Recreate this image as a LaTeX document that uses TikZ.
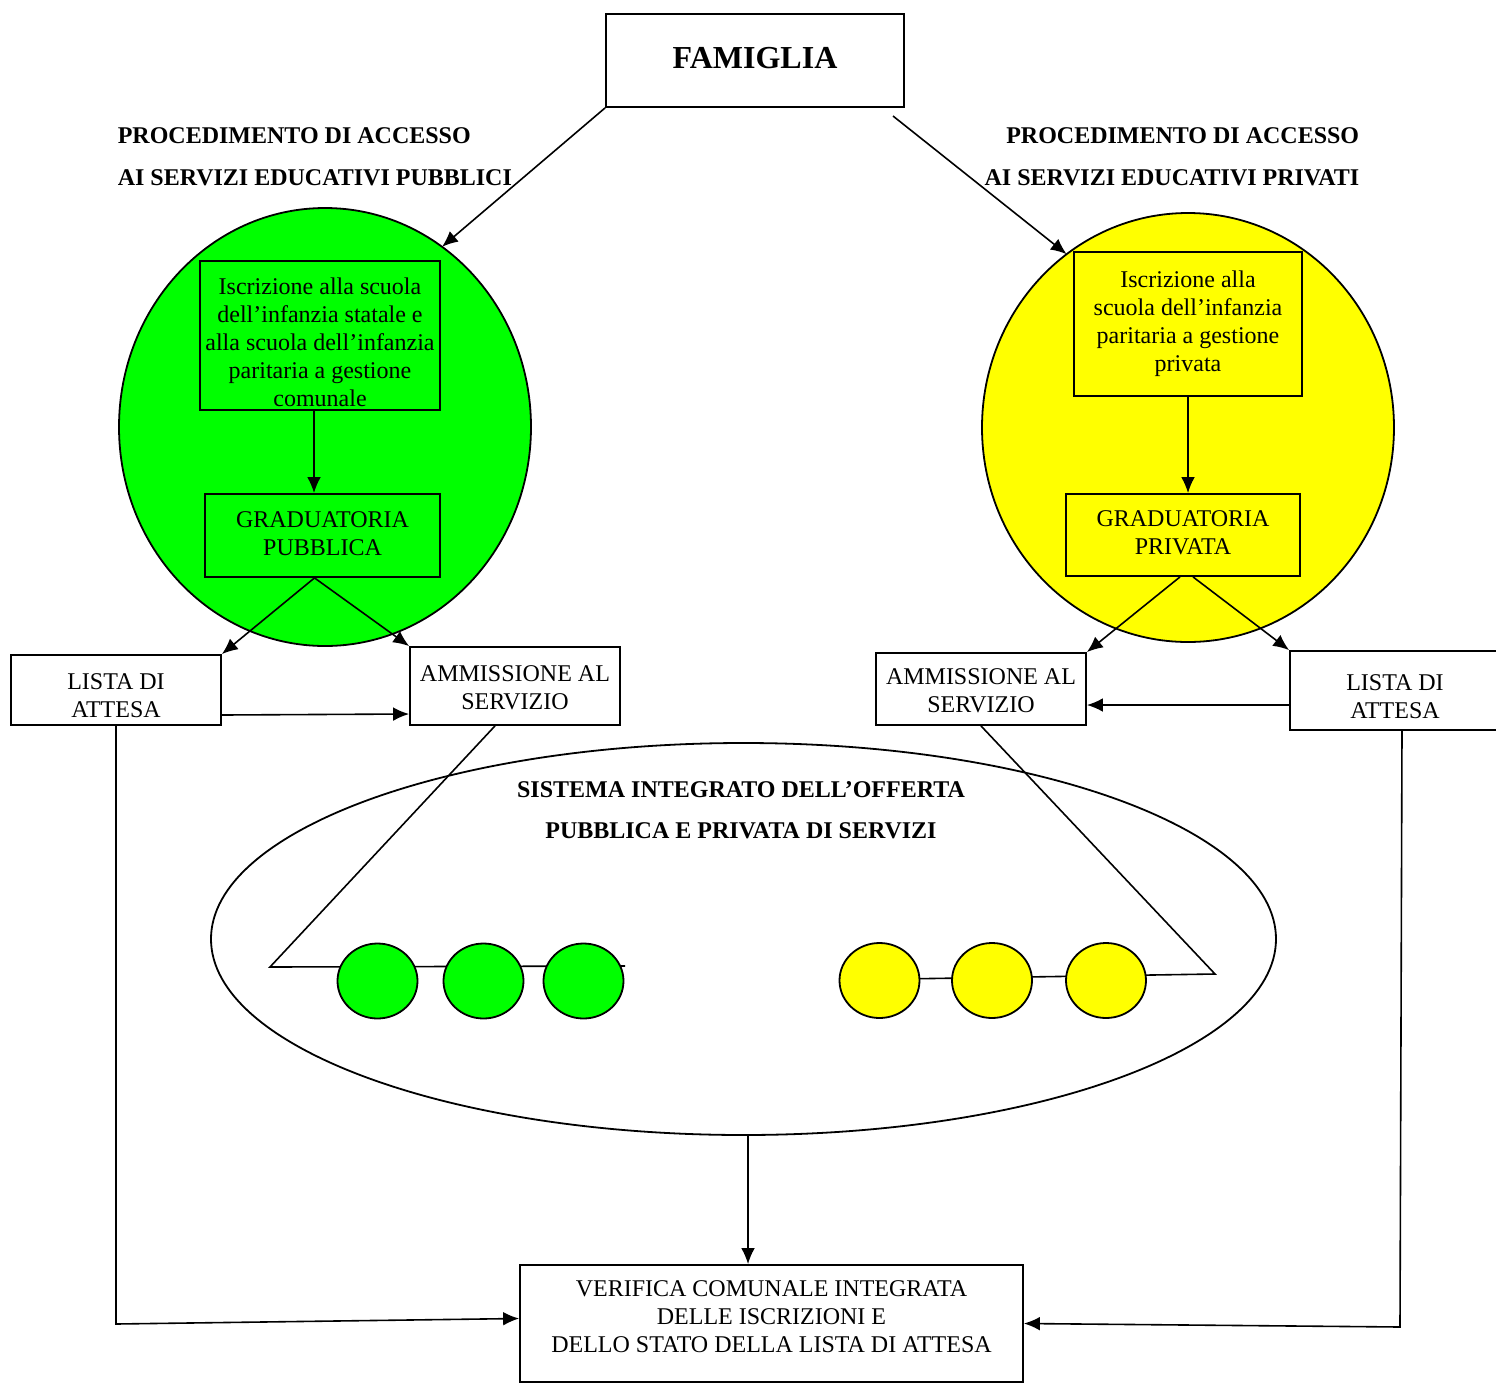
\documentclass[tikz,border=0pt]{standalone}
\usepackage{fontspec}
\setmainfont{Liberation Serif}
\usepackage{tikz}
\usetikzlibrary{arrows.meta}
\usetikzlibrary{shapes}
\usetikzlibrary{positioning}

\definecolor{verde}{RGB}{0,255,0}
\definecolor{giallo}{RGB}{255,255,0}

\tikzset{
	testo/.style={font=\fontsize{12}{14}\selectfont, align=center},
	casella/.style={testo, draw, line width=0.9pt, inner sep=0pt},
	titolo/.style={font=\fontsize{12}{14}\selectfont\bfseries, inner sep=0pt},
	cerchio/.style={ellipse, draw, line width=0.9pt, inner sep=0pt, outer sep=0pt},
	pallino/.style={cerchio, minimum width=40pt, minimum height=37.5pt},
	freccia/.style={-{Latex[length=2.8mm,width=2.4mm]}},
}

\begin{document}
\begin{tikzpicture}[x=0.5pt, y=-0.5pt, line width=0.8pt]
		\useasboundingbox (0,0) rectangle (1496,1383);

		% famiglia e titoli
		\node (fam) [casella, font=\fontsize{16}{19}\selectfont\bfseries, minimum width=149pt, minimum height=46.5pt] at (755,60.5) {FAMIGLIA\rule[-3pt]{0pt}{3pt}};
		\node (headpub) [titolo, align=left, anchor=west] at (117,157) {PROCEDIMENTO DI ACCESSO\\[7pt]AI SERVIZI EDUCATIVI PUBBLICI};
		\node (headpriv) [titolo, align=right, anchor=east] at (1360,157) {PROCEDIMENTO DI ACCESSO\\[7pt]AI SERVIZI EDUCATIVI PRIVATI};

		% cerchi grandi
		\node (cpub) [cerchio, fill=verde, minimum width=206pt, minimum height=219pt] at (325,427) {};
		\node (cpriv) [cerchio, fill=giallo, minimum width=206pt, minimum height=214.5pt] at (1188,427.5) {};

		\node (iscg) [casella, fill=verde, minimum width=120pt, minimum height=74.5pt] at (320,335.5) {\rule{0pt}{15pt}Iscrizione alla scuola\\dell’infanzia statale e\\alla scuola dell’infanzia\\paritaria a gestione\\comunale};
		\node (grpub) [casella, fill=verde, minimum width=117.5pt, minimum height=41.5pt] at (322.5,535.5) {GRADUATORIA\\PUBBLICA\rule[-2pt]{0pt}{2pt}};
		\node (iscp) [casella, fill=giallo, minimum width=114pt, minimum height=72pt] at (1188,324) {Iscrizione alla\\scuola dell’infanzia\\paritaria a gestione\\privata};
		\node (grpriv) [casella, fill=giallo, minimum width=117pt, minimum height=41pt] at (1183,535) {GRADUATORIA\\PRIVATA\rule[-2pt]{0pt}{2pt}};

		% liste e ammissioni
		\node (listapub) [casella, minimum width=105pt, minimum height=35pt] at (116,690) {\rule{0pt}{14pt}LISTA DI\\ATTESA};
		\node (ammpub) [casella, minimum width=105pt, minimum height=39pt] at (515,686) {\rule{0pt}{10pt}AMMISSIONE AL\\SERVIZIO};
		\node (ammpriv) [casella, minimum width=105pt, minimum height=36pt] at (981,689) {\rule{0pt}{10pt}AMMISSIONE AL\\SERVIZIO};
		\node (listapriv) [casella, minimum width=105pt, minimum height=39.5pt] at (1395,690.5) {\rule{0pt}{14pt}LISTA DI\\ATTESA};

		% sistema integrato
		\node (sist) [cerchio, minimum width=532.5pt, minimum height=196pt] at (743.5,939) {};
		\node (sisttxt) [titolo, align=center] at (741,810.5) {SISTEMA INTEGRATO DELL’OFFERTA\\[6.5pt]PUBBLICA E PRIVATA DI SERVIZI};

		\coordinate (gl) at (270,967);
		\coordinate (gr) at (625,966);
		\draw ([xshift=-10pt]ammpub.south) -- (gl) -- (gr);
		\coordinate (yr) at (1215,974);
		\coordinate (yl) at (900,979);
		\draw (ammpriv.south) -- (yr) -- (yl);

		\node (g1) [pallino, fill=verde] at (377.5,981) {};
		\node (g2) [pallino, fill=verde] at (483.5,981) {};
		\node (g3) [pallino, fill=verde] at (583.5,981) {};
		\node (y1) [pallino, fill=giallo] at (879.5,980.5) {};
		\node (y2) [pallino, fill=giallo] at (992,980.5) {};
		\node (y3) [pallino, fill=giallo] at (1106,980.5) {};

		% verifica
		\node (ver) [casella, minimum width=251.5pt, minimum height=58.5pt] at (771.5,1323.5) {VERIFICA COMUNALE INTEGRATA\\DELLE ISCRIZIONI E\\DELLO STATO DELLA LISTA DI ATTESA\rule[-7pt]{0pt}{7pt}};

		% frecce
		\coordinate (famr) at (893,116);
		\draw[freccia] (fam.south west) -- (cpub.57);
		\draw[freccia] (famr) -- (cpriv.125);

		\draw[freccia] ([xshift=-3pt]iscg.south) -- ([xshift=-3pt]iscg.south |- grpub.north);
		\draw[freccia] (iscp.south) -- (iscp.south |- grpriv.north);

		\draw[freccia] ([xshift=-4pt]grpub.south) -- (listapub.north east);
		\draw[freccia] ([xshift=-4pt]grpub.south) -- (ammpub.north west);
		\draw[freccia] ([xshift=-1.5pt]grpriv.south) -- (ammpriv.north east);
		\draw[freccia] ([xshift=5pt]grpriv.south) -- (listapriv.north west);

		\draw[freccia] ([yshift=-12.5pt]listapub.east) -- ([yshift=-14pt]ammpub.west);
		\draw[freccia] ([yshift=-7.25pt]listapriv.west) -- ([yshift=-8pt]ammpriv.east);

		\coordinate (lpb) at (116,1324);
		\coordinate (lpv) at (1400,1327);
		\draw[freccia] (listapub) -- (lpb) -- ([yshift=2.5pt]ver.west);
		\draw[freccia] ([xshift=3.5pt]listapriv.south) -- (lpv) -- (ver.east);
		\draw[freccia] ([xshift=2.25pt]sist.south) -- ([xshift=2.25pt]sist.south |- ver.north);
\end{tikzpicture}
\end{document}
